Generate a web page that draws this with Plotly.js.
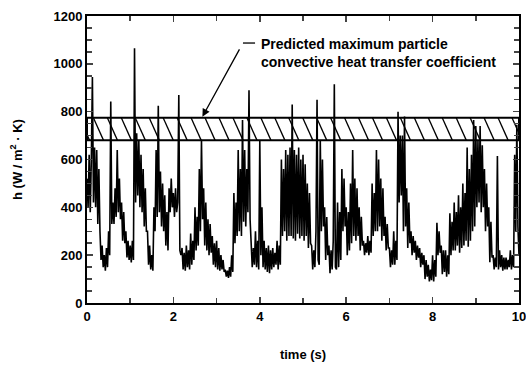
<!DOCTYPE html>
<html>
<head>
<meta charset="utf-8">
<script src="https://cdn.plot.ly/plotly-3.0.1.min.js"></script>
<style>
html,body{margin:0;padding:0;background:#fff;}
#chart{width:526px;height:366px;}
</style>
</head>
<body>
<div id="chart"></div>
<script>
// sampling interval of the recorded signal (s)
const dt = 0.025;
// heat transfer coefficient h (W/m2K), 4 samples per 0.1 s
const hValues = [
 520,400,620,380, 600,945,420,650, 400,640,330,560, 300,180,240,150, 200,135,230,150,
 300,200,842,330, 420,330,480,360, 640,380,520,350, 420,260,380,250, 300,190,260,180,
 240,170,260,180, 1065,420,710,450, 680,400,620,380, 560,320,480,300, 300,160,240,140,
 200,135,400,300, 640,360,825,380, 550,320,500,300, 450,240,380,220, 480,380,520,400,
 460,360,480,380, 420,870,220,200, 230,140,210,135, 240,150,220,140, 290,160,260,180,
 400,220,360,240, 560,300,680,350, 480,240,420,220, 350,200,330,210, 280,160,250,150,
 260,140,230,135, 200,140,180,130, 140,110,135,105, 150,110,200,130, 460,250,420,280,
 640,300,560,280, 765,340,640,320, 560,380,890,350, 250,150,230,160, 300,150,260,140,
 680,200,400,150, 260,140,230,130, 240,125,220,140, 230,150,210,160, 260,140,240,160,
 600,280,560,300, 640,260,620,280, 650,280,830,270, 640,260,620,290, 650,270,600,280,
 620,260,580,280, 500,230,460,250, 240,140,220,150, 300,850,180,160, 680,300,600,320,
 400,180,360,200, 240,125,220,140, 260,915,150,140, 420,150,380,180, 560,300,520,320,
 400,200,380,220, 500,250,640,280, 520,260,480,280, 400,220,360,240, 260,200,250,210,
 280,200,260,210, 500,280,460,300, 640,300,600,320, 520,260,480,280, 360,220,330,230,
 230,150,220,160, 300,160,260,180, 800,420,700,450, 700,300,780,320, 480,230,420,250,
 300,200,280,210, 260,180,240,190, 230,150,210,160, 200,100,180,110, 160,90,140,95,
 200,90,180,110, 335,200,300,210, 240,120,220,130, 220,110,200,120, 375,200,340,220,
 420,220,380,240, 450,210,400,230, 500,240,460,260, 650,235,560,260, 620,300,765,320,
 740,400,680,420, 740,380,660,400, 560,300,500,320, 400,170,340,190, 200,140,190,150,
 615,140,220,150, 200,135,190,140, 190,140,180,150, 220,140,200,150, 620,300,745,320,
 200
];
const timeValues = hValues.map((_, i) => +(i * dt).toFixed(3));

// predicted maximum particle convective heat transfer coefficient band
const bandLow = 680;
const bandHigh = 775;
const tMin = 0, tMax = 10;

// tick labels
const xTickVals = [0, 2, 4, 6, 8, 10];
const yTickVals = [0, 200, 400, 600, 800, 1000, 1200];

// band outline
const bandX = [tMin, tMax, tMax, tMin, tMin];
const bandY = [bandLow, bandLow, bandHigh, bandHigh, bandLow];

// hatch lines inside the band
const hatchStep = 0.323, hatchSlant = 0.235;
const hx = [], hy = [];
for (let s = tMin - hatchSlant + 0.06; s < tMax; s += hatchStep) {
  hx.push(s, s + hatchSlant, null);
  hy.push(bandHigh, bandLow, null);
}

const font = {family: 'Liberation Sans, Arial, sans-serif', size: 13, color: '#000', weight: 'bold'};

const traces = [
  {x: hx, y: hy, mode: 'lines', line: {color: '#000', width: 1.3}, hoverinfo: 'skip', showlegend: false},
  {x: bandX, y: bandY, mode: 'lines', line: {color: '#000', width: 2}, hoverinfo: 'skip', showlegend: false},
  {x: timeValues, y: hValues, mode: 'lines', line: {color: '#000', width: 1.6}, showlegend: false}
];

const layout = {
  width: 526, height: 366,
  margin: {l: 87, r: 7, t: 16, b: 63},
  paper_bgcolor: '#fff', plot_bgcolor: '#fff',
  font: font,
  showlegend: false,
  xaxis: {
    range: [tMin, tMax], tickvals: xTickVals, ticks: 'inside', ticklen: 6, tickwidth: 1.5,
    showline: true, linewidth: 2, linecolor: '#000', mirror: 'ticks',
    showgrid: false, zeroline: false, tickfont: font, ticklabeloverflow: 'allow',
    minor: {dtick: 1, ticks: 'inside', ticklen: 5, tickwidth: 1.5, showgrid: false},
    title: {text: 'time (s)', font: font, standoff: 27}
  },
  yaxis: {
    range: [0, 1200], tickvals: yTickVals, ticks: 'inside', ticklen: 6, tickwidth: 1.5,
    showline: true, linewidth: 2, linecolor: '#000', mirror: 'ticks',
    showgrid: false, zeroline: false, tickfont: font,
    minor: {dtick: 50, ticks: 'inside', ticklen: 5, tickwidth: 1.5, showgrid: false},
    title: {text: 'h (W / m<sup>2</sup> · K)', font: font, standoff: 28}
  },
  shapes: [
    {type: 'line', xref: 'x', yref: 'y', x0: 3.61, x1: 3.89, y0: 1087, y1: 1087, line: {color: '#000', width: 1.3}}
  ],
  annotations: [
    {xref: 'x', yref: 'y', x: 2.66, y: bandHigh, axref: 'x', ayref: 'y', ax: 3.61, ay: 1087,
     text: ' ', showarrow: true, arrowhead: 2, arrowsize: 1.2, arrowwidth: 1.3, arrowcolor: '#000', standoff: 1},
    {xref: 'x', yref: 'y', x: 3.98, y: 1125, xanchor: 'left', yanchor: 'top', align: 'left', showarrow: false,
     text: 'Predicted maximum particle<br>convective heat transfer coefficient', font: {family: font.family, size: 14, color: '#000', weight: 'bold'}}
  ]
};

Plotly.newPlot('chart', traces, layout, {displayModeBar: false, staticPlot: true});
</script>
</body>
</html>
